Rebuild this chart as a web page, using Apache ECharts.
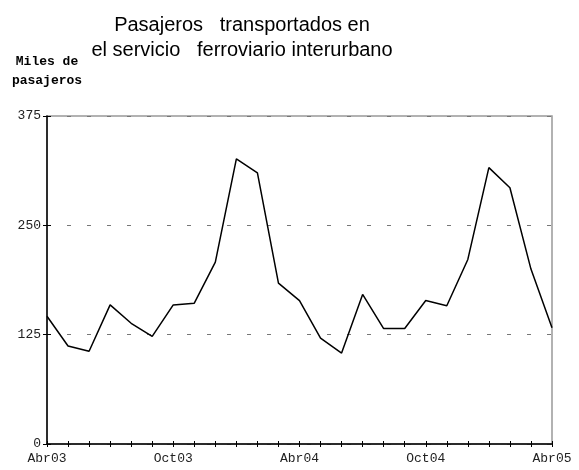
<!DOCTYPE html>
<html>
<head>
<meta charset="utf-8">
<script src="https://cdn.jsdelivr.net/npm/echarts@6/dist/echarts.min.js"></script>
<style>html,body{margin:0;padding:0;background:#fff}#c{width:579px;height:470px}</style>
</head>
<body>
<div id="c"></div>
<script>
var categories = ['Abr03','May03','Jun03','Jul03','Ago03','Sep03','Oct03','Nov03','Dic03','Ene04','Feb04','Mar04',
  'Abr04','May04','Jun04','Jul04','Ago04','Sep04','Oct04','Nov04','Dic04','Ene05','Feb05','Mar05','Abr05'];
var pasajeros = [146, 112, 106, 159, 138, 123, 159, 161, 208, 326, 310, 184,
  164, 121, 104, 171, 132, 132, 164, 158, 211, 316, 293, 200, 133];
var yTicks = [0, 125, 250, 375];

var chart = echarts.init(document.getElementById('c'));
chart.setOption({
  animation: false,
  title: {
    text: 'Pasajeros   transportados en\nel servicio   ferroviario interurbano',
    left: 237, top: 8, textAlign: 'center',
    textStyle: {fontFamily: 'Liberation Sans', fontSize: 20, fontWeight: 'normal', color: '#000', lineHeight: 25}
  },
  grid: {left: 47, right: 27, top: 116, bottom: 26, show: true, borderColor: '#999', borderWidth: 1.5},
  xAxis: [{
    type: 'category', data: categories, boundaryGap: false,
    axisLine: {lineStyle: {color: '#000', width: 1.5}},
    axisTick: {show: true, interval: 0, length: 3, lineStyle: {color: '#000'}},
    axisLabel: {interval: 5, margin: 8, fontFamily: 'Liberation Mono', fontSize: 13, color: '#222'},
    splitLine: {show: false}
  }, {
    type: 'category', data: categories, boundaryGap: false, position: 'bottom',
    axisLine: {show: false},
    axisTick: {show: true, inside: true, interval: 0, length: 3, lineStyle: {color: '#000'}},
    axisLabel: {show: false}, splitLine: {show: false}
  }],
  yAxis: [{
    type: 'value', min: 0, max: 375, interval: 125,
    name: 'Miles de\npasajeros', nameLocation: 'end', nameGap: 26,
    nameTextStyle: {fontFamily: 'Liberation Mono', fontSize: 13, fontWeight: 'bold', color: '#000', lineHeight: 19, align: 'center', verticalAlign: 'bottom'},
    axisLine: {show: true, lineStyle: {color: '#000', width: 1.5}},
    axisTick: {show: true, length: 4, lineStyle: {color: '#000'}},
    axisLabel: {margin: 6, fontFamily: 'Liberation Mono', fontSize: 13, color: '#222',
      formatter: function (v) { return yTicks.indexOf(v) >= 0 ? String(v) : ''; }},
    splitLine: {show: true, lineStyle: {color: '#777', type: [4, 16], width: 1}}
  }, {
    type: 'value', min: 0, max: 375, interval: 125, position: 'left',
    axisLine: {show: false},
    axisTick: {show: true, inside: true, length: 4, lineStyle: {color: '#000'}},
    axisLabel: {show: false}, splitLine: {show: false}
  }],
  series: [{
    type: 'line', data: pasajeros, xAxisIndex: 0, yAxisIndex: 0,
    showSymbol: false, symbol: 'none',
    lineStyle: {color: '#000', width: 1.5}
  }]
});
</script>
</body>
</html>
